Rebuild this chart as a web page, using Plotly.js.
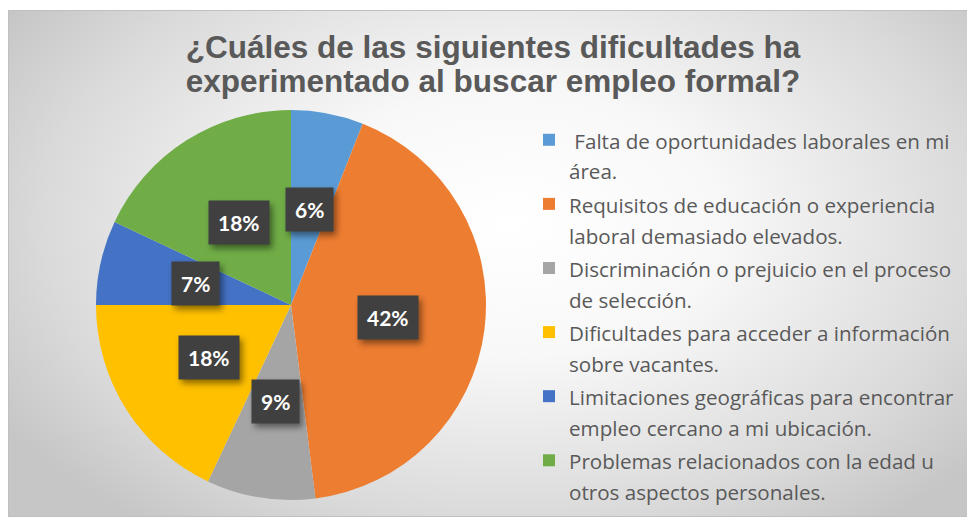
<!DOCTYPE html>
<html>
<head>
<meta charset="utf-8">
<script src="https://cdn.plot.ly/plotly-3.0.1.min.js"></script>
<style>
  html, body { margin: 0; padding: 0; background: #ffffff; }
  #wrap { position: relative; width: 967px; height: 519px; overflow: hidden; }
  #bg { position: absolute; left: 8px; top: 10px; width: 965px; height: 505px;
        border: 1px solid #c0c0c0;
        background: radial-gradient(ellipse 62% 75% at 52% 42%, #ffffff 0%, #f8f8f8 35%, #dadada 78%, #c6c6c6 100%); }
  #chart { position: absolute; left: 0; top: 0; width: 967px; height: 519px; }
  .annotation rect.bg { filter: drop-shadow(3px 4px 3px rgba(0,0,0,0.45)); }
</style>
</head>
<body>
<div id="wrap">
  <div id="bg"></div>
  <div id="chart"></div>
</div>
<script>
// ---- data ----
const categoryLines = [
  [" Falta de oportunidades laborales en mi", "área."],
  ["Requisitos de educación o experiencia", "laboral demasiado elevados."],
  ["Discriminación o prejuicio en el proceso", "de selección."],
  ["Dificultades para acceder a información", "sobre vacantes."],
  ["Limitaciones geográficas para encontrar", "empleo cercano a mi ubicación."],
  ["Problemas relacionados con la edad u", "otros aspectos personales."]
];
const values = [6, 42, 9, 18, 7, 18];
const colors = ["#5B9BD5", "#ED7D31", "#A5A5A5", "#FFC000", "#4472C4", "#70AD47"];
const titleLines = ["¿Cuáles de las siguientes dificultades ha", "experimentado al buscar empleo formal?"];

// ---- layout geometry ----
const W = 967, H = 519;
const cx = 291, cy = 305, R = 195;
const domX = [(cx - R) / W, (cx + R) / W];
const domY = [1 - (cy + R) / H, 1 - (cy - R) / H];

const legendSpan = (s) => '<span style="font-size:20.6px">' + s + '</span>';
const labels = categoryLines.map(ls => ls.map(legendSpan).join('<br>'));
const titleSpan = (s) => '<span style="font-size:31.5px">' + s + '</span>';

// label positions derived from the data (mid-angle of each slice, half radius)
const total = values.reduce((a, b) => a + b, 0);
let cum = 0;
const annotations = values.map((v) => {
  const f = (cum + v / 2) / total;
  cum += v;
  const th = 2 * Math.PI * f;
  const px = cx + 0.5 * R * Math.sin(th);
  const py = cy - 0.5 * R * Math.cos(th);
  return {
    x: px / W, y: 1 - py / H, xref: 'paper', yref: 'paper',
    xanchor: 'center', yanchor: 'middle', showarrow: false,
    text: '<b>' + Math.round(v / total * 100) + '%</b>',
    font: { family: 'Lato, "Open Sans", sans-serif', size: 21, color: '#ffffff' },
    bgcolor: '#404040', borderpad: 9
  };
});

const trace = {
  type: 'pie',
  labels: labels,
  values: values,
  marker: { colors: colors, line: { width: 0 } },
  sort: false,
  direction: 'clockwise',
  rotation: 0,
  textinfo: 'none',
  hoverinfo: 'percent',
  domain: { x: domX, y: domY }
};

const layout = {
  width: W, height: H,
  margin: { l: 0, r: 0, t: 0, b: 0 },
  paper_bgcolor: 'rgba(0,0,0,0)',
  plot_bgcolor: 'rgba(0,0,0,0)',
  title: {
    text: '<b>' + titleLines.map(titleSpan).join('<br>') + '</b>',
    font: { family: '"Liberation Sans", Arial, sans-serif', size: 26, color: '#595959' },
    x: 493 / W, xanchor: 'center', xref: 'paper',
    y: 1 - 58 / H, yanchor: 'top', yref: 'paper'
  },
  showlegend: true,
  legend: {
    x: 529 / W, xanchor: 'left',
    y: 1 - 118 / H, yanchor: 'top',
    font: { family: '"Open Sans", sans-serif', size: 23.5, color: '#595959' },
    bgcolor: 'rgba(0,0,0,0)',
    valign: 'top',
    traceorder: 'normal'
  },
  annotations: annotations
};

Plotly.newPlot('chart', [trace], layout, { displayModeBar: false, staticPlot: true });
</script>
</body>
</html>
